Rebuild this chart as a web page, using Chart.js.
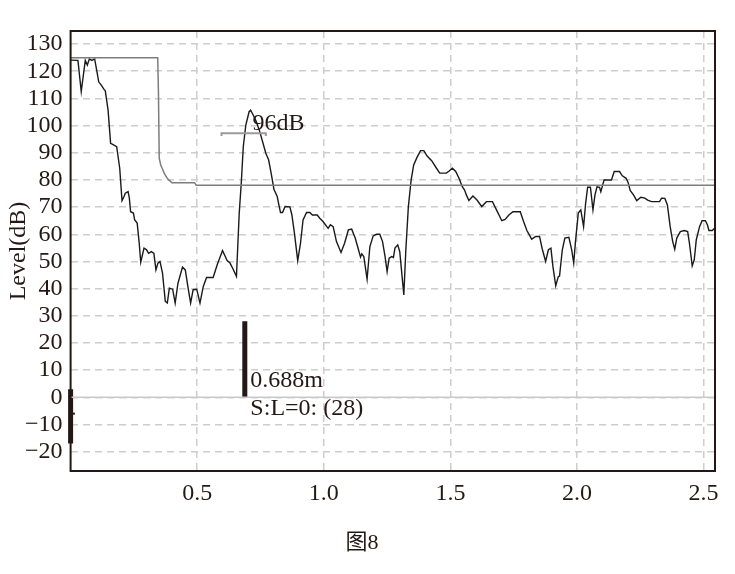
<!DOCTYPE html>
<html>
<head>
<meta charset="utf-8">
<script src="https://cdn.jsdelivr.net/npm/chart.js@4/dist/chart.umd.min.js"></script>
<style>
  html, body { margin: 0; padding: 0; background: #fff; }
  #wrap { width: 735px; height: 574px; }
</style>
</head>
<body>
<div id="wrap"><canvas id="grafico"></canvas></div>
<script>
// distance (m) and level (dB) of the measured trace
const distance = [0.000, 0.029, 0.042, 0.058, 0.066, 0.074, 0.084, 0.095, 0.103, 0.111, 0.121, 0.132, 0.137, 0.148, 0.158, 0.166, 0.182, 0.194, 0.203, 0.211, 0.216, 0.227, 0.232, 0.237, 0.248, 0.253, 0.263, 0.271, 0.277, 0.290, 0.300, 0.308, 0.319, 0.329, 0.337, 0.345, 0.353, 0.363, 0.374, 0.382, 0.390, 0.403, 0.413, 0.424, 0.442, 0.453, 0.463, 0.474, 0.484, 0.498, 0.511, 0.524, 0.537, 0.563, 0.579, 0.600, 0.610, 0.618, 0.629, 0.640, 0.655, 0.666, 0.674, 0.682, 0.692, 0.705, 0.711, 0.721, 0.732, 0.745, 0.760, 0.771, 0.782, 0.792, 0.803, 0.816, 0.824, 0.829, 0.837, 0.847, 0.866, 0.874, 0.884, 0.897, 0.908, 0.918, 0.932, 0.945, 0.955, 0.974, 0.984, 0.997, 1.017, 1.026, 1.037, 1.050, 1.068, 1.082, 1.097, 1.110, 1.124, 1.137, 1.145, 1.150, 1.158, 1.171, 1.182, 1.195, 1.208, 1.221, 1.232, 1.242, 1.250, 1.258, 1.268, 1.275, 1.281, 1.292, 1.300, 1.316, 1.324, 1.334, 1.345, 1.355, 1.368, 1.382, 1.395, 1.408, 1.426, 1.445, 1.458, 1.484, 1.495, 1.508, 1.521, 1.534, 1.547, 1.556, 1.563, 1.573, 1.589, 1.605, 1.624, 1.642, 1.666, 1.682, 1.703, 1.716, 1.731, 1.747, 1.776, 1.789, 1.802, 1.821, 1.837, 1.852, 1.863, 1.876, 1.887, 1.897, 1.905, 1.916, 1.926, 1.931, 1.942, 1.952, 1.968, 1.979, 1.987, 1.994, 2.005, 2.015, 2.026, 2.034, 2.042, 2.053, 2.063, 2.071, 2.079, 2.089, 2.094, 2.107, 2.136, 2.147, 2.168, 2.179, 2.194, 2.202, 2.210, 2.223, 2.236, 2.252, 2.268, 2.279, 2.294, 2.326, 2.334, 2.347, 2.357, 2.368, 2.378, 2.386, 2.394, 2.408, 2.424, 2.437, 2.444, 2.455, 2.463, 2.471, 2.484, 2.494, 2.507, 2.515, 2.521, 2.534, 2.543];
const level = [124.1, 124.0, 112.5, 124.0, 122.3, 124.5, 124.0, 124.5, 120.4, 116.1, 114.9, 113.3, 112.8, 105.7, 93.5, 93.1, 92.2, 84.3, 72.4, 73.9, 75.1, 75.7, 73.3, 68.3, 67.8, 65.3, 64.1, 56.7, 49.7, 54.9, 54.3, 53.0, 53.6, 53.0, 46.9, 49.4, 50.0, 45.7, 35.3, 34.7, 40.2, 39.8, 34.7, 42.0, 47.9, 46.9, 40.8, 34.7, 39.6, 39.8, 34.7, 40.8, 44.1, 44.1, 48.8, 54.0, 52.0, 50.3, 49.5, 47.5, 44.5, 67.8, 78.8, 92.2, 100.2, 105.1, 105.7, 103.9, 101.8, 98.4, 93.5, 89.8, 87.4, 82.5, 76.6, 73.9, 70.2, 68.0, 68.0, 70.2, 70.1, 67.1, 60.4, 50.3, 56.7, 65.3, 68.0, 68.0, 67.1, 67.1, 65.9, 64.7, 62.2, 63.5, 62.8, 57.3, 53.3, 56.7, 61.6, 61.9, 58.6, 54.3, 51.6, 52.8, 51.8, 43.5, 55.5, 59.4, 60.0, 60.0, 57.3, 51.8, 46.3, 51.2, 51.8, 51.5, 54.9, 56.1, 53.6, 37.7, 54.3, 70.2, 80.0, 85.5, 88.3, 90.8, 90.8, 88.8, 87.1, 84.3, 82.5, 82.5, 83.3, 84.3, 83.1, 80.6, 77.5, 76.3, 74.5, 72.4, 74.1, 72.6, 70.2, 72.0, 72.0, 69.0, 65.0, 65.5, 67.1, 68.3, 68.3, 64.7, 61.4, 58.2, 59.2, 59.2, 54.5, 50.0, 54.3, 54.9, 48.1, 41.0, 44.4, 44.6, 54.3, 58.6, 58.9, 54.3, 49.4, 57.3, 67.8, 69.0, 62.8, 71.4, 77.3, 77.3, 69.0, 74.5, 77.5, 77.3, 75.7, 80.0, 80.0, 83.1, 83.1, 81.5, 80.6, 79.0, 76.1, 74.5, 72.4, 73.6, 73.3, 72.6, 72.0, 72.0, 73.3, 73.2, 70.8, 62.8, 57.3, 54.5, 58.6, 61.0, 61.4, 61.0, 56.7, 48.4, 50.6, 57.9, 62.8, 65.0, 65.0, 63.5, 61.4, 61.4, 62.2];

// threshold (gray) line
const limitDistance = [0, 0.344, 0.347, 0.350, 0.356, 0.371, 0.384, 0.400, 0.490, 0.496, 2.545];
const limitLevel = [125, 125, 112, 88, 85.5, 82.2, 80.3, 79, 79, 78, 78];

// 96dB marker bracket
const markerDistance = [0.596, 0.596, 0.771, 0.771];
const markerLevel = [96.2, 97.2, 97.2, 96.2];

// cursor at 0.688 m and start marker
const cursorDistance = [0.688, 0.688];
const cursorLevel = [0, 28];
const startDistance = [0, 0];
const startLevel = [3, -17];
const startTickDistance = [0, 0.017];
const startTickLevel = [-6, -6];

const xTicks = [0.5, 1.0, 1.5, 2.0, 2.5];
const yTicks = [-20, -10, 0, 10, 20, 30, 40, 50, 60, 70, 80, 90, 100, 110, 120, 130];

const tinta = "#231815";
const serif = "'Liberation Serif', 'Noto Sans CJK SC', serif";

function puntos(xs, ys) {
  return xs.map((x, i) => ({ x: x, y: ys[i] }));
}

function linea(data, color, ancho, extra) {
  return Object.assign({
    data: data,
    borderColor: color,
    borderWidth: ancho,
    pointRadius: 0,
    tension: 0,
    fill: false,
  }, extra || {});
}

const marco = {
  id: "marco",
  afterDraw(chart) {
    const { ctx, chartArea: a, scales } = chart;
    const x = scales.x, y = scales.y;
    ctx.save();
    ctx.strokeStyle = tinta;
    ctx.lineWidth = 2;
    ctx.strokeRect(a.left, a.top, a.right - a.left, a.bottom - a.top);

    ctx.fillStyle = tinta;
    ctx.font = "24px " + serif;
    ctx.textBaseline = "middle";
    ctx.textAlign = "left";
    ctx.fillText("96dB", x.getPixelForValue(0.718), y.getPixelForValue(100.8));
    ctx.fillText("0.688m", x.getPixelForValue(0.710), y.getPixelForValue(6));
    ctx.fillText("S:L=0: (28)", x.getPixelForValue(0.710), y.getPixelForValue(-4.3));

    ctx.font = "22px " + serif;
    ctx.textAlign = "center";
    ctx.fillText("图8", 362, 543);
    ctx.restore();
  },
};

new Chart(document.getElementById("grafico"), {
  type: "line",
  data: {
    datasets: [
      linea(puntos([0, 2.545], [0, 0]), "#c9c9c9", 1.5),
      linea(puntos(limitDistance, limitLevel), "#7d7d7d", 1.5),
      linea(puntos(markerDistance, markerLevel), "#9a9a9a", 2),
      linea(puntos(distance, level), "#1a1a1a", 1.4),
      linea(puntos(cursorDistance, cursorLevel), tinta, 5, { borderCapStyle: "butt" }),
      linea(puntos(startDistance, startLevel), tinta, 5, { clip: false }),
      linea(puntos(startTickDistance, startTickLevel), tinta, 2, { clip: false }),
    ],
  },
  options: {
    responsive: true,
    maintainAspectRatio: false,
    animation: false,
    events: [],
    layout: { padding: { left: 0, right: 20, top: 31, bottom: 0 } },
    plugins: {
      legend: { display: false },
      tooltip: { enabled: false },
    },
    scales: {
      x: {
        type: "linear",
        min: 0,
        max: 2.545,
        afterBuildTicks: (s) => { s.ticks = xTicks.map((v) => ({ value: v })); },
        afterFit: (s) => { s.height = 103; },
        ticks: {
          color: tinta,
          padding: 8,
          autoSkip: false,
          maxRotation: 0,
          font: { family: serif, size: 24 },
          callback: (v) => v.toFixed(1),
        },
        grid: { color: "#cdcdcd", lineWidth: 1.5, drawTicks: false },
        border: { display: false, dash: [7, 5] },
      },
      y: {
        type: "linear",
        min: -27.1,
        max: 134.8,
        afterBuildTicks: (s) => { s.ticks = yTicks.map((v) => ({ value: v })); },
        afterFit: (s) => { s.width = 70.6; },
        ticks: {
          color: tinta,
          padding: 8,
          autoSkip: false,
          font: { family: serif, size: 24 },
          callback: (v) => (v < 0 ? "\u2212" + Math.abs(v) : String(v)),
        },
        grid: { color: "#cdcdcd", lineWidth: 1.5, drawTicks: false },
        border: { display: false, dash: [7, 5] },
        title: {
          display: true,
          text: "Level(dB)",
          color: tinta,
          font: { family: serif, size: 24 },
          padding: { top: 4, bottom: 0 },
        },
      },
    },
  },
  plugins: [marco],
});
</script>
</body>
</html>
